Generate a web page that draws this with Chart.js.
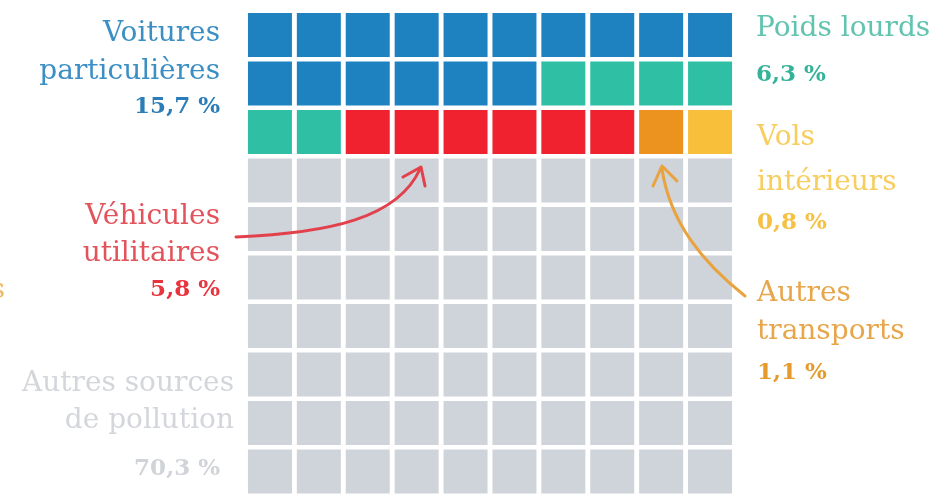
<!DOCTYPE html>
<html>
<head>
<meta charset="utf-8">
<script src="https://cdn.jsdelivr.net/npm/chart.js@4/dist/chart.umd.min.js"></script>
<style>
  html, body { margin: 0; padding: 0; background: #ffffff; overflow: hidden; }
  #wrap { position: relative; width: 943px; height: 500px; }
</style>
</head>
<body>
<div id="wrap"><canvas id="c"></canvas></div>
<script>
// ---- Data ----
const categories = ['Voitures particulières', 'Poids lourds', 'Véhicules utilitaires', 'Autres transports', 'Vols intérieurs', 'Autres sources de pollution'];
const shares = [15.7, 6.3, 5.8, 1.1, 0.8, 70.3];          // % of emissions
const cellCounts = [16, 6, 6, 1, 1, 70];                   // waffle cells (out of 100)
const cellColors = ['#1f82c0', '#2ebfa5', '#f0222f', '#ec931f', '#f8c03a', '#cfd3da'];
const gridCols = 10;
const gridRows = 10;

// Label texts (lines) and their colours
const labelLines = [
  ['Voitures', 'particulières'],
  ['Poids lourds'],
  ['Véhicules', 'utilitaires'],
  ['Autres', 'transports'],
  ['Vols', 'intérieurs'],
  ['Autres sources', 'de pollution']
];
const shareTexts = ['15,7 %', '6,3 %', '5,8 %', '1,1 %', '0,8 %', '70,3 %'];
const labelColors = ['#3c8fc4', '#62c4b0', '#e2535c', '#e8a64a', '#f6cd5e', '#d3d6db'];
const shareColors = ['#2a7db8', '#34b39a', '#e8343e', '#e59a2c', '#f4c142', '#d0d3d8'];

// ---- Build waffle cells (row-major fill) ----
const datasets = [];
let idx = 0;
categories.forEach((cat, i) => {
  const pts = [];
  for (let k = 0; k < cellCounts[i]; k++) {
    pts.push({ x: idx % gridCols, y: Math.floor(idx / gridCols) });
    idx++;
  }
  const cellRadius = (ctx) => {
    const s = ctx.chart.scales.y;
    const pitch = Math.abs(s.getPixelForValue(1) - s.getPixelForValue(0));
    return (pitch - 4.5) / Math.SQRT2;
  };
  datasets.push({
    label: cat,
    data: pts,
    pointStyle: 'rect',
    backgroundColor: cellColors[i],
    borderWidth: 0,
    pointBorderWidth: 0,
    pointRadius: cellRadius,
    pointHoverRadius: cellRadius,
    clip: false
  });
});

// ---- Annotation plugin: labels and arrows ----
const labelFont = '28px "DejaVu Serif"';
const shareFont = 'bold 23px "DejaVu Serif"';

const labelPos = [
  { x: 220, align: 'right', lines: [41, 79], share: 113 },
  { x: 756, align: 'left', lines: [36], share: 81 },
  { x: 220, align: 'right', lines: [224, 261], share: 296 },
  { x: 757, align: 'left', lines: [301, 339], share: 379 },
  { x: 757, align: 'left', lines: [145, 190], share: 229 },
  { x: 234, align: 'right', lines: [391, 428], share: 475, shareX: 220 }
];

const annotate = {
  id: 'annotate',
  afterDatasetsDraw(chart) {
    const ctx = chart.ctx;
    ctx.save();
    const drawArrow = (color, path, tip, w1, w2) => {
      ctx.strokeStyle = color;
      ctx.lineWidth = 3;
      ctx.lineCap = 'round';
      ctx.lineJoin = 'round';
      ctx.beginPath();
      ctx.moveTo(path[0], path[1]);
      ctx.bezierCurveTo(path[2], path[3], path[4], path[5], path[6], path[7]);
      ctx.stroke();
      ctx.beginPath();
      ctx.moveTo(w1[0], w1[1]);
      ctx.lineTo(tip[0], tip[1]);
      ctx.lineTo(w2[0], w2[1]);
      ctx.stroke();
    };
    drawArrow('#e2414b', [236, 237, 330, 233, 398, 218, 420, 169], [421, 167], [403, 177], [425, 186]);
    drawArrow('#eaa23d', [745, 296, 702, 262, 670, 222, 662, 169], [662, 166], [653, 186], [677, 181]);

    ctx.textBaseline = 'alphabetic';
    labelPos.forEach((p, i) => {
      ctx.textAlign = p.align;
      ctx.font = labelFont;
      ctx.fillStyle = labelColors[i];
      labelLines[i].forEach((ln, j) => ctx.fillText(ln, p.x, p.lines[j]));
      ctx.font = shareFont;
      ctx.fillStyle = shareColors[i];
      ctx.fillText(shareTexts[i], p.shareX || p.x, p.share);
    });
    // clipped fragment at the far left edge
    ctx.textAlign = 'right';
    ctx.font = labelFont;
    ctx.fillStyle = '#ecbd68';
    ctx.fillText('s', 5, 298);
    ctx.restore();
  }
};

new Chart(document.getElementById('c'), {
  type: 'scatter',
  data: { datasets },
  options: {
    responsive: true,
    maintainAspectRatio: false,
    animation: false,
    events: [],
    layout: { padding: { left: 245.5, right: 208.5, top: 10.75, bottom: 4.25 } },
    plugins: { legend: { display: false }, tooltip: { enabled: false } },
    scales: {
      x: { type: 'linear', min: -0.5, max: gridCols - 0.5, display: false },
      y: { type: 'linear', min: -0.5, max: gridRows - 0.5, reverse: true, display: false }
    }
  },
  plugins: [annotate]
});
</script>
</body>
</html>
